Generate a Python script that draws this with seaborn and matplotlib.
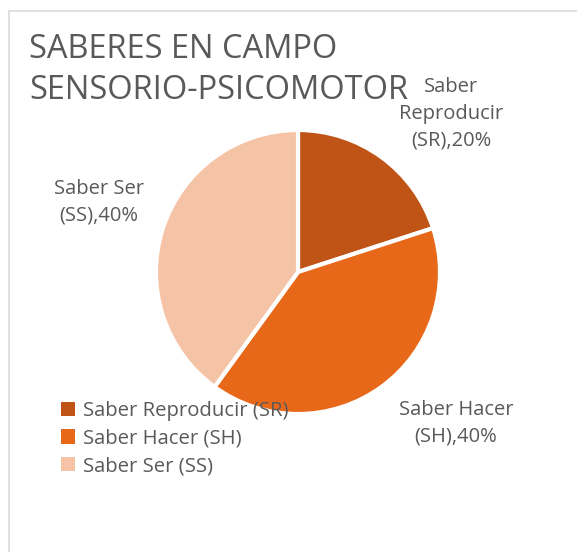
import matplotlib.pyplot as plt
import seaborn as sns
from matplotlib.lines import Line2D

categories = ['Saber Reproducir (SR)', 'Saber Hacer (SH)', 'Saber Ser (SS)']
values = [20, 40, 40]
data_labels = ['Saber\nReproducir\n(SR),20%', 'Saber Hacer\n(SH),40%', 'Saber Ser\n(SS),40%']
colors = ['#C05417', '#E8681A', '#F5C3A5']
title = 'SABERES EN CAMPO\nSENSORIO-PSICOMOTOR'

sns.set_theme(style='white')
plt.rcParams['font.family'] = ['Open Sans', 'DejaVu Sans']

W, H = 577, 552
fig = plt.figure(figsize=(W / 100, H / 100), dpi=100)


def fx(x):
    return x / W


def fy(y):
    return 1 - y / H


# marco del grafico
fig.add_artist(Line2D([fx(9), 1], [fy(11), fy(11)], color='#D9D9D9', lw=1.2))
fig.add_artist(Line2D([fx(9), fx(9)], [fy(11), 0], color='#D9D9D9', lw=1.2))

# pastel
ax = fig.add_axes([fx(156), fy(414), 284 / W, 284 / H])
wedges, _ = ax.pie(values, colors=colors, startangle=90, counterclock=False,
                   wedgeprops=dict(edgecolor='white', linewidth=3))
ax.set_aspect('equal')
ax.set_xlim(-1, 1)
ax.set_ylim(-1, 1)
ax.axis('off')

text_color = '#595959'
fig.text(fx(29), fy(70), title, ha='left', va='center', fontsize=23.5, color=text_color,
         linespacing=1.33)

label_pos = [(451, 114), (456, 423), (99, 202)]
for lab, (x, y) in zip(data_labels, label_pos):
    fig.text(fx(x), fy(y), lab, ha='center', va='center', fontsize=14.5,
             color=text_color, linespacing=1.45)

# leyenda
leg = fig.legend(wedges, categories, loc='upper left', bbox_to_anchor=(fx(53), fy(393)),
                 frameon=False, fontsize=14.6, handlelength=0.7, handleheight=0.7,
                 handletextpad=0.4, labelspacing=0.37, borderaxespad=0)
for t in leg.get_texts():
    t.set_color(text_color)
for h in leg.legend_handles:
    h.set_edgecolor('none')

fig.savefig('out.png', dpi=100)
